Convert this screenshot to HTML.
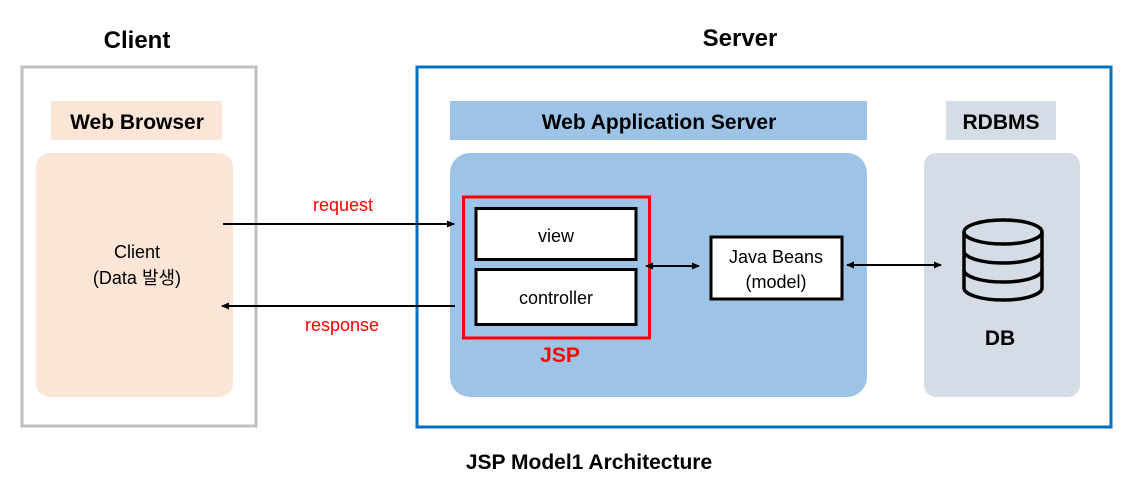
<!DOCTYPE html>
<html><head><meta charset="utf-8"><style>
html,body{margin:0;padding:0;background:#fff;}
svg{display:block;font-family:"Liberation Sans","Noto Sans CJK KR",sans-serif;}
</style></head><body>
<svg width="1144" height="498" viewBox="0 0 1144 498" xmlns="http://www.w3.org/2000/svg">
<defs>
<marker id="a" markerWidth="8" markerHeight="8" refX="7" refY="4" orient="auto-start-reverse" markerUnits="userSpaceOnUse"><path d="M0,0.5 L8,4 L0,7.5 Z" fill="#000"/></marker>
</defs>
<text x="137" y="48" font-size="24" font-weight="bold" text-anchor="middle">Client</text>
<text x="740" y="46" font-size="24" font-weight="bold" text-anchor="middle">Server</text>
<rect x="22" y="67" width="234" height="359" fill="none" stroke="#bfbfbf" stroke-width="3"/>
<rect x="417" y="67" width="694" height="360" fill="none" stroke="#0070c0" stroke-width="3"/>
<rect x="51" y="101" width="171" height="39" fill="#fbe5d6"/>
<text x="137" y="129" font-size="21" font-weight="bold" text-anchor="middle">Web Browser</text>
<rect x="36" y="153" width="197" height="244" rx="14" fill="#fbe5d6"/>
<text x="137" y="258" font-size="18" text-anchor="middle">Client</text>
<text x="137" y="284" font-size="18" text-anchor="middle">(Data 발생)</text>
<rect x="450" y="101" width="417" height="39" fill="#9dc3e6"/>
<text x="659" y="129" font-size="21" font-weight="bold" text-anchor="middle">Web Application Server</text>
<rect x="450" y="153" width="417" height="244" rx="20" fill="#9dc3e6"/>
<rect x="946" y="101" width="110" height="39" fill="#d6dce5"/>
<text x="1001" y="129" font-size="21" font-weight="bold" text-anchor="middle">RDBMS</text>
<rect x="924" y="153" width="156" height="244" rx="12" fill="#d6dce5"/>
<rect x="463.5" y="197" width="186" height="141" fill="none" stroke="#ff0000" stroke-width="3"/>
<rect x="476" y="208.5" width="160" height="51" fill="#fff" stroke="#000" stroke-width="3"/>
<text x="556" y="242" font-size="18" text-anchor="middle">view</text>
<rect x="476" y="269.5" width="160" height="55" fill="#fff" stroke="#000" stroke-width="3"/>
<text x="556" y="304" font-size="18" text-anchor="middle">controller</text>
<text x="560" y="362" font-size="21" font-weight="bold" fill="#ff0000" text-anchor="middle">JSP</text>
<rect x="711" y="237" width="131" height="62" fill="#fff" stroke="#000" stroke-width="3"/>
<text x="776" y="263" font-size="18" text-anchor="middle">Java Beans</text>
<text x="776" y="288" font-size="18" text-anchor="middle">(model)</text>
<line x1="223" y1="224" x2="454" y2="224" stroke="#000" stroke-width="2" marker-end="url(#a)"/>
<line x1="455" y1="306" x2="222" y2="306" stroke="#000" stroke-width="2" marker-end="url(#a)"/>
<text x="343" y="211" font-size="18" fill="#ff0000" text-anchor="middle">request</text>
<text x="342" y="331" font-size="18" fill="#ff0000" text-anchor="middle">response</text>
<line x1="646" y1="266" x2="699" y2="266" stroke="#000" stroke-width="2" marker-start="url(#a)" marker-end="url(#a)"/>
<line x1="847" y1="265" x2="941" y2="265" stroke="#000" stroke-width="2" marker-start="url(#a)" marker-end="url(#a)"/>
<g fill="none" stroke="#000" stroke-width="3.5">
<ellipse cx="1003" cy="232" rx="39" ry="12"/>
<path d="M964,232 V288 A39,12 0 0 0 1042,288 V232"/>
<path d="M964,251 A39,12 0 0 0 1042,251"/>
<path d="M964,270 A39,12 0 0 0 1042,270"/>
</g>
<text x="1000" y="345" font-size="21" font-weight="bold" text-anchor="middle">DB</text>
<text x="589" y="469" font-size="21" font-weight="bold" text-anchor="middle">JSP Model1 Architecture</text>
</svg>
</body></html>
